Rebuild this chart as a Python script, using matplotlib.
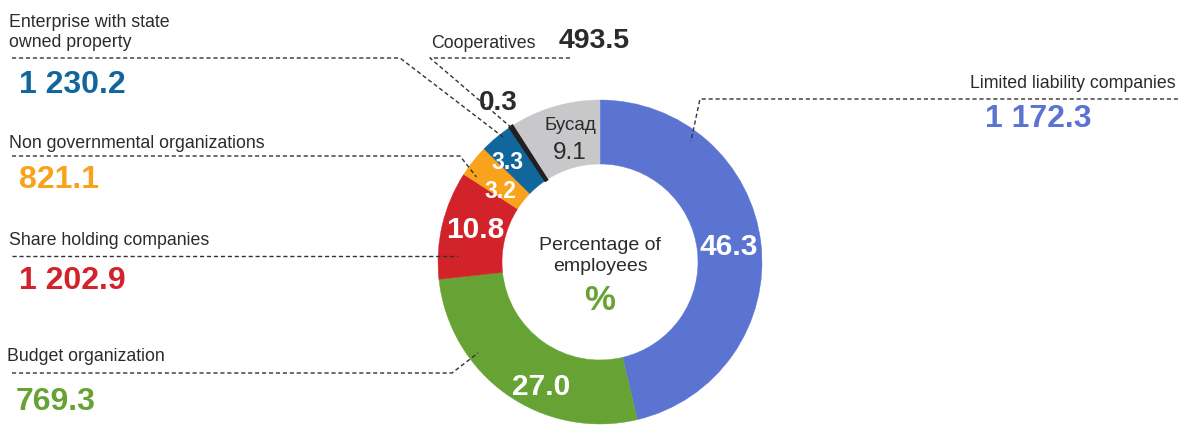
import matplotlib
matplotlib.use('Agg')
import matplotlib.pyplot as plt
import numpy as np

plt.rcParams['font.family'] = ['Liberation Sans', 'DejaVu Sans']

# ---- data ----
categories = ["Limited liability companies", "Budget organization", "Share holding companies",
              "Non governmental organizations", "Enterprise with state\nowned property",
              "Cooperatives", "Бусад"]
percent = [46.3, 27.0, 10.8, 3.2, 3.3, 0.3, 9.1]
pct_labels = ["46.3", "27.0", "10.8", "3.2", "3.3", "0.3", "9.1"]
employees = ["1 172.3", "769.3", "1 202.9", "821.1", "1 230.2", "493.5", ""]
colors = ["#5b73d1", "#67a334", "#d2232a", "#f9a21b", "#11679b", "#231f20", "#c8c8ca"]
center_title = "Percentage of\nemployees"

TXT = "#2b2b2b"
W, H = 1178, 425
fig = plt.figure(figsize=(W / 100, H / 100), dpi=100)
ax = fig.add_axes([0, 0, 1, 1])

cx, cy_px = 600, 262
R, RW = 162, 64
cy = H - cy_px
wedges, _ = ax.pie(percent, colors=colors, startangle=90, counterclock=False,
                   radius=R, center=(cx, cy),
                   wedgeprops=dict(width=RW, linewidth=0.3, edgecolor='none'))
for wdg, c in zip(wedges, colors):
    wdg.set_edgecolor(c)
wedges[5].set_linewidth(1.8)
wedges[5].set_zorder(3)
ax.set_xlim(0, W)
ax.set_ylim(0, H)
ax.set_aspect('auto')
ax.axis('off')


def mid(i):
    return (wedges[i].theta1 + wedges[i].theta2) / 2.0


def polar(angle, r):
    a = np.deg2rad(angle)
    return cx + r * np.cos(a), cy + r * np.sin(a)


def T(x, ypx, s, **kw):
    ax.text(x, H - ypx, s, **kw)


def dash(xs, ys_px):
    ax.plot(xs, [H - y for y in ys_px], color="#333333", lw=1.0,
            linestyle=(0, (3, 2)), solid_capstyle='butt', zorder=4)


# ---- inner percentage labels ----
inner = {0: (0, 130, 21.5), 1: (10, 138, 21.5), 2: (-1, 129, 21.5),
         3: (3.5, 122, 16.5), 4: (3, 136, 16.5)}
for i, (off, r, fs) in inner.items():
    x, y = polar(mid(i) + off, r)
    ax.text(x, y, pct_labels[i], color='white', fontsize=fs, fontweight='bold',
            ha='center', va='center', zorder=5)

# gray "Бусад" label
gx, gy = polar(mid(6) - 2.6, 126)
ax.text(gx, gy + 14, categories[6], color=TXT, fontsize=13.5, ha='center', va='center', zorder=5)
ax.text(gx, gy - 13, pct_labels[6], color=TXT, fontsize=17.5, ha='center', va='center', zorder=5)

# cooperatives small share outside
T(479, 110, pct_labels[5], color=TXT, fontsize=20, fontweight='bold', ha='left', va='baseline')

# ---- centre text ----
T(cx, 256, center_title, color=TXT, fontsize=14, ha='center', va='center', linespacing=1.3)
T(cx, 300, "%", color=colors[1], fontsize=25, fontweight='bold', ha='center', va='center')

NFS = 23
LFS = 12.8

# Enterprise with state owned property
T(9, 27, "Enterprise with state", color=TXT, fontsize=LFS, va='baseline')
T(9, 47, "owned property", color=TXT, fontsize=LFS, va='baseline')
T(19, 93, employees[4], color=colors[4], fontsize=NFS, fontweight='bold', va='baseline')
ex, ey = polar(mid(4) - 2, 158)
dash([12, 400, ex], [58, 58, H - ey])

# Cooperatives
T(431, 48, "Cooperatives", color=TXT, fontsize=LFS, va='baseline')
T(559, 48, employees[5], color=TXT, fontsize=20.5, fontweight='bold', va='baseline')
kx, ky = polar(mid(5), 160)
dash([570, 430, kx], [58, 58, H - ky])

# Non governmental organizations
T(9, 148, categories[3], color=TXT, fontsize=LFS, va='baseline')
T(19, 188, employees[3], color=colors[3], fontsize=NFS, fontweight='bold', va='baseline')
nx, ny = polar(mid(3) + 4, 150)
dash([12, 460, nx], [156, 156, H - ny])

# Share holding companies
T(9, 245, categories[2], color=TXT, fontsize=LFS, va='baseline')
T(19, 289, employees[2], color=colors[2], fontsize=NFS, fontweight='bold', va='baseline')
sx, sy = polar(177.5, 142)
dash([12, sx], [256, 256])

# Budget organization
T(7, 361, categories[1], color=TXT, fontsize=LFS, va='baseline')
T(16, 410, employees[1], color=colors[1], fontsize=NFS, fontweight='bold', va='baseline')
bx, by = polar(mid(1) - 18, 152)
dash([12, 452, bx], [373, 373, H - by])

# Limited liability companies
T(1176, 88, categories[0], color=TXT, fontsize=LFS, ha='right', va='baseline')
T(1038, 127, employees[0], color=colors[0], fontsize=NFS, fontweight='bold', ha='center', va='baseline')
lx, ly = polar(53, 151)
dash([1178, 700, lx], [99, 99, H - ly])

fig.savefig("out.png", dpi=100)
